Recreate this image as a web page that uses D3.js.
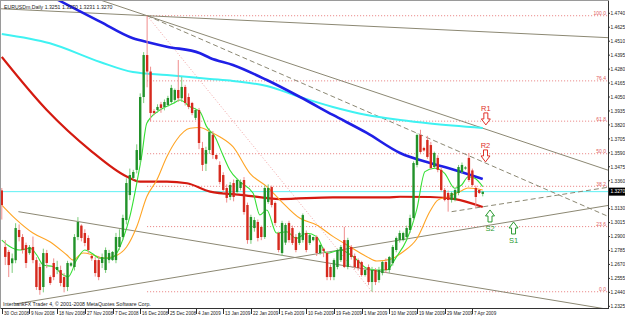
<!DOCTYPE html>
<html><head><meta charset="utf-8">
<script src="https://cdn.jsdelivr.net/npm/d3@7"></script>
<style>
body { margin: 0; background: #fff; }
svg { display: block; font-family: "Liberation Sans", Arial, sans-serif; }
</style></head><body>
<script>
// bar index -> [open, high, low, close] (daily, incl. sunday bars)
var ohlc = [
  [1.3280,1.3300,1.3040,1.3160],[1.2814,1.2871,1.2665,1.2732],[1.2773,1.2790,1.2566,1.2665],[1.2680,1.2760,1.2600,1.2720],
  [1.2705,1.3010,1.2680,1.2970],[1.2954,1.3000,1.2860,1.2896],[1.2896,1.2920,1.2760,1.2789],[1.2830,1.2850,1.2640,1.2682],
  [1.2764,1.2830,1.2750,1.2814],[1.2814,1.2900,1.2680,1.2706],[1.2706,1.2730,1.2460,1.2484],[1.2649,1.2680,1.2420,1.2459],
  [1.2484,1.2800,1.2440,1.2764],[1.2764,1.2790,1.2640,1.2682],[1.2566,1.2580,1.2500,1.2517],[1.2682,1.2720,1.2540,1.2566],
  [1.2624,1.2700,1.2590,1.2649],[1.2624,1.2660,1.2490,1.2517],[1.2566,1.2600,1.2440,1.2484],[1.2484,1.2700,1.2450,1.2682],
  [1.2660,1.2690,1.2650,1.2680],[1.2649,1.2920,1.2620,1.2896],[1.2896,1.3060,1.2870,1.3020],[1.2990,1.3000,1.2860,1.2888],
  [1.2929,1.2960,1.2820,1.2847],[1.2888,1.2910,1.2760,1.2789],[1.2740,1.2750,1.2700,1.2720],[1.2706,1.2730,1.2570,1.2599],
  [1.2706,1.2740,1.2540,1.2566],[1.2682,1.2760,1.2640,1.2731],[1.2624,1.2810,1.2600,1.2789],[1.2706,1.2790,1.2680,1.2764],
  [1.2706,1.2780,1.2700,1.2773],[1.2706,1.2930,1.2680,1.2896],[1.2814,1.2960,1.2790,1.2896],[1.2896,1.3080,1.2870,1.3053],
  [1.3036,1.3380,1.3000,1.3341],[1.3242,1.3460,1.3200,1.3407],[1.3383,1.3450,1.3370,1.3432],[1.3449,1.3660,1.3420,1.3613],
  [1.3531,1.4080,1.3500,1.4050],[1.4050,1.4420,1.4000,1.4396],[1.4396,1.4720,1.4130,1.4260],[1.4260,1.4300,1.3850,1.3918],
  [1.3935,1.3950,1.3900,1.3918],[1.3943,1.3990,1.3920,1.3968],[1.3990,1.4010,1.3920,1.3960],[1.3968,1.4030,1.3940,1.4009],
  [1.3984,1.4060,1.3970,1.4042],[1.4009,1.4150,1.3990,1.4125],[1.4026,1.4120,1.4010,1.4108],[1.4108,1.4355,1.4010,1.4040],
  [1.4040,1.4215,1.4010,1.4133],[1.4133,1.4150,1.3980,1.4001],[1.4050,1.4080,1.3950,1.3968],[1.4001,1.4010,1.3900,1.3918],
  [1.3878,1.3960,1.3860,1.3943],[1.3943,1.3960,1.3620,1.3671],[1.3630,1.3680,1.3440,1.3490],[1.3500,1.3640,1.3440,1.3613],
  [1.3613,1.3790,1.3580,1.3762],[1.3739,1.3770,1.3540,1.3572],[1.3572,1.3580,1.3530,1.3540],[1.3490,1.3520,1.3330,1.3350],
  [1.3407,1.3430,1.3260,1.3284],[1.3300,1.3330,1.3180,1.3218],[1.3226,1.3350,1.3200,1.3325],[1.3341,1.3370,1.3190,1.3226],
  [1.3267,1.3380,1.3250,1.3366],[1.3300,1.3370,1.3280,1.3350],[1.3366,1.3390,1.3080,1.3102],[1.3160,1.3180,1.2840,1.2871],
  [1.2871,1.3080,1.2840,1.3061],[1.2970,1.3060,1.2940,1.3036],[1.3020,1.3040,1.2860,1.2888],[1.2979,1.2990,1.2870,1.2896],
  [1.2896,1.3320,1.2880,1.3300],[1.3185,1.3330,1.3170,1.3300],[1.3308,1.3320,1.3140,1.3160],[1.3177,1.3190,1.2990,1.3012],
  [1.2929,1.2940,1.2770,1.2789],[1.2764,1.3030,1.2740,1.3012],[1.2850,1.3010,1.2830,1.2995],[1.3012,1.3030,1.2850,1.2871],
  [1.2970,1.2990,1.2830,1.2847],[1.2896,1.2920,1.2770,1.2789],[1.2847,1.2940,1.2830,1.2929],[1.2871,1.3090,1.2850,1.3077],
  [1.2929,1.2950,1.2770,1.2789],[1.2847,1.2920,1.2830,1.2912],[1.2870,1.2900,1.2860,1.2896],[1.2896,1.2910,1.2740,1.2764],
  [1.2764,1.2840,1.2750,1.2830],[1.2800,1.2810,1.2730,1.2780],[1.2764,1.2780,1.2540,1.2566],[1.2649,1.2670,1.2540,1.2566],
  [1.2566,1.2720,1.2540,1.2706],[1.2649,1.2800,1.2630,1.2789],[1.2706,1.2830,1.2690,1.2814],[1.2871,1.2980,1.2640,1.2649],
  [1.2649,1.2890,1.2630,1.2871],[1.2814,1.2830,1.2710,1.2731],[1.2740,1.2760,1.2630,1.2649],[1.2706,1.2720,1.2620,1.2640],
  [1.2690,1.2700,1.2570,1.2583],[1.2583,1.2640,1.2570,1.2624],[1.2649,1.2670,1.2500,1.2525],[1.2525,1.2650,1.2445,1.2624],
  [1.2624,1.2640,1.2500,1.2525],[1.2542,1.2650,1.2520,1.2624],[1.2599,1.2700,1.2580,1.2690],[1.2690,1.2720,1.2600,1.2624],
  [1.2624,1.2740,1.2600,1.2731],[1.2681,1.2830,1.2660,1.2814],[1.2789,1.2900,1.2770,1.2888],[1.2871,1.2950,1.2850,1.2929],
  [1.2871,1.2940,1.2860,1.2929],[1.2896,1.2990,1.2880,1.2970],[1.2954,1.3080,1.2930,1.3053],[1.3053,1.3520,1.3030,1.3506],
  [1.3490,1.3750,1.3470,1.3737],[1.3737,1.3780,1.3580,1.3597],[1.3630,1.3640,1.3600,1.3610],[1.3696,1.3730,1.3540,1.3556],
  [1.3654,1.3680,1.3450,1.3465],[1.3473,1.3600,1.3460,1.3589],[1.3548,1.3570,1.3430,1.3449],[1.3449,1.3470,1.3270,1.3284],
  [1.3284,1.3300,1.3190,1.3201],[1.3259,1.3280,1.3105,1.3201],[1.3201,1.3270,1.3180,1.3259],[1.3201,1.3300,1.3190,1.3284],
  [1.3259,1.3490,1.3240,1.3473],[1.3432,1.3510,1.3420,1.3490],[1.3460,1.3480,1.3450,1.3470],[1.3548,1.3589,1.3350,1.3366],
  [1.3445,1.3460,1.3310,1.3325],[1.3300,1.3320,1.3135,1.3226],[1.3284,1.3290,1.3250,1.3259],[1.3251,1.3270,1.3231,1.3270]
];

// moving averages, [bar index, price]
var maBlue = [[0,1.5106],[16.8,1.4842],[28.4,1.4671],[37.9,1.4534],[42.8,1.4498],[47.7,1.4465],[57.3,1.4411],[60.2,1.4372],
  [66.8,1.4314],[76.6,1.4190],[86.2,1.4050],[95.7,1.3902],[105.5,1.3754],[115.1,1.3589],[123.8,1.3506],[129,1.3465],[139,1.3374]];
var maCyan = [[0,1.4570],[13.9,1.4493],[28.4,1.4339],[37.9,1.4256],[47.7,1.4232],[60.2,1.4199],[66.8,1.4182],[76.6,1.4141],
  [86.2,1.4050],[95.7,1.3968],[105.5,1.3902],[115.1,1.3861],[123.8,1.3832],[139,1.3795]];
var maRed = [[0,1.4380],[13,1.3943],[25.5,1.3613],[36.2,1.3393],[40,1.3352],[47.7,1.3352],[53.5,1.3339],[60.2,1.3270],
  [69.7,1.3242],[80.4,1.3209],[95.7,1.3223],[111.3,1.3223],[115.1,1.3228],[123.8,1.3226],[131,1.3209],[139,1.3144]];
var maOrange = [[0,1.3160],[3.8,1.3050],[9,1.2929],[13.9,1.2857],[18.8,1.2748],[20.6,1.2707],[23.5,1.2764],[26.4,1.2748],
  [29.2,1.2723],[32.1,1.2734],[36.1,1.2816],[39,1.2981],[41.9,1.3228],[44.8,1.3366],[47.7,1.3558],[50.5,1.3696],[54.4,1.3792],
  [57.3,1.3799],[60.2,1.3764],[63.1,1.3721],[66.8,1.3641],[71.7,1.3421],[76.6,1.3311],[80.4,1.3201],[86.2,1.3050],[91,1.2995],
  [95.8,1.2899],[100.6,1.2816],[105.5,1.2734],[108.4,1.2698],[112.2,1.2712],[116,1.2775],[119.9,1.2880],[123.8,1.3110],
  [126,1.3200],[129,1.3228],[132.9,1.3278],[134.7,1.3300],[139,1.3284]];
var maGreen = [[0,1.2871],[2.4,1.2816],[5.3,1.2789],[8.2,1.2803],[10.1,1.2748],[12,1.2665],[14.9,1.2651],[17.8,1.2583],
  [19.2,1.2569],[21.6,1.2706],[24,1.2789],[26,1.2762],[28.4,1.2721],[31.3,1.2721],[33.2,1.2762],[35.1,1.2885],[37,1.3064],
  [39,1.3339],[40.4,1.3558],[41.9,1.3833],[45.7,1.3943],[49.6,1.3998],[51.5,1.4026],[54.4,1.3970],[57.3,1.3927],[59.2,1.3806],
  [61.6,1.3723],[63.9,1.3572],[65.9,1.3449],[68.8,1.3352],[72.6,1.3259],[74.6,1.3078],[76.6,1.3119],[79.4,1.2929],[82.3,1.2940],
  [85.2,1.2885],[88.1,1.2927],[91,1.2899],[93.9,1.2762],[97.8,1.2789],[101.6,1.2734],[105.5,1.2638],[108.4,1.2624],
  [111.2,1.2624],[114.1,1.2734],[117,1.2871],[119.9,1.3119],[122.3,1.3435],[125.2,1.3463],[128,1.3421],[130.9,1.3298],
  [132.9,1.3325],[134.8,1.3393],[136.7,1.3380],[139,1.3311]];

// trend lines: two anchors [bar index, price]; left = extend to the left of first anchor
var trendLines = [
  { a: [0, 1.4777], b: [42, 1.4720], left: true, dash: null },
  { a: [42, 1.4720], b: [175, 1.3449], left: true, dash: null },
  { a: [42, 1.4720], b: [175, 1.3069], left: false, dash: "5,3" },
  { a: [4.8, 1.3105], b: [172.9, 1.2311], left: false, dash: null },
  { a: [3.8, 1.2344], b: [175.2, 1.3156], left: false, dash: null },
  { a: [130, 1.3105], b: [175.2, 1.3306], left: false, dash: "5,3" }
];

// fibonacci from the 18 Dec high to the 4 Mar low
var fibHigh = [42, 1.4720], fibLow = [107, 1.2445];
var fibLevels = [0, 23.6, 38.2, 50.0, 61.8, 76.4, 100.0];

// support / resistance marks: [label, bar index, price at arrow tip, direction]
var marks = [["R1", 139.9, 1.3820, "down"], ["R2", 139.8, 1.3515, "down"],
             ["S2", 141.1, 1.3119, "up"], ["S1", 147.9, 1.3020, "up"]];

// 1.3245 sits under the last-price box and is not shown
var priceTicks = ["1.4740","1.4625","1.4510","1.4395","1.4280","1.4165","1.4050","1.3935","1.3820","1.3705","1.3590",
  "1.3475","1.3360","1.3130","1.3015","1.2900","1.2785","1.2670","1.2555","1.2440","1.2325"];
var dateIdx = [0, 8, 16, 24, 32, 40, 48, 56, 64, 72, 80, 88, 96, 104, 112, 120, 128, 136];
var dateLabels = ["30 Oct 2008","9 Nov 2008","18 Nov 2008","27 Nov 2008","7 Dec 2008","16 Dec 2008","25 Dec 2008",
  "4 Jan 2009","13 Jan 2009","22 Jan 2009","1 Feb 2009","10 Feb 2009","19 Feb 2009","1 Mar 2009","10 Mar 2009",
  "19 Mar 2009","29 Mar 2009","7 Apr 2009"];
var lastPrice = 1.3270;

var width = 625, height = 316;
var plot = { left: 1, top: 1, right: 608, bottom: 308 };

var x = d3.scaleLinear().domain([0, 139]).range([1.8, 1.8 + 139 * 3.46]);
var y = d3.scaleLinear().domain([1.2325, 1.4740]).range([306.3, 13.3]);

var svg = d3.select("body").append("svg")
  .attr("width", width).attr("height", height);

svg.append("defs").append("clipPath").attr("id", "clip")
  .append("rect")
  .attr("x", plot.left).attr("y", plot.top)
  .attr("width", plot.right - plot.left).attr("height", plot.bottom - plot.top);

var root = svg.append("g").attr("clip-path", "url(#clip)");

// fib levels
var fibRange = fibHigh[1] - fibLow[1];
fibLevels.forEach(function(l) {
  var py = y(fibLow[1] + fibRange * l / 100);
  root.append("line")
    .attr("x1", x(fibHigh[0])).attr("x2", plot.right)
    .attr("y1", py).attr("y2", py)
    .attr("stroke", "#e25a5a").attr("stroke-width", 0.8).attr("stroke-dasharray", "1,2");
  root.append("text")
    .attr("x", plot.right - 2).attr("y", py - 0.5)
    .attr("text-anchor", "end").attr("font-size", 5).attr("fill", "#e06060")
    .text(l.toFixed(1));
});
root.append("line")
  .attr("x1", x(fibHigh[0])).attr("y1", y(fibHigh[1]))
  .attr("x2", x(fibLow[0])).attr("y2", y(fibLow[1]))
  .attr("stroke", "#ec8a8a").attr("stroke-width", 0.8).attr("stroke-dasharray", "1,2");

// current price line
root.append("line")
  .attr("x1", plot.left).attr("x2", plot.right)
  .attr("y1", y(lastPrice)).attr("y2", y(lastPrice))
  .attr("stroke", "#5ff0f4").attr("stroke-width", 1);

// trend lines
trendLines.forEach(function(t) {
  var slope = (t.b[1] - t.a[1]) / (t.b[0] - t.a[0]);
  var i0 = t.left ? -20 : t.a[0], i1 = 200;
  root.append("line")
    .attr("x1", x(i0)).attr("y1", y(t.a[1] + slope * (i0 - t.a[0])))
    .attr("x2", x(i1)).attr("y2", y(t.a[1] + slope * (i1 - t.a[0])))
    .attr("stroke", "#8c8873").attr("stroke-width", 1)
    .attr("stroke-dasharray", t.dash);
});

// moving averages
var maLine = d3.line()
  .x(function(d) { return x(d[0]); })
  .y(function(d) { return y(d[1]); })
  .curve(d3.curveMonotoneX);

[[maCyan, "#3ff2f2", 2], [maBlue, "#1f1fe6", 2.6], [maRed, "#d41a10", 2.2],
 [maOrange, "#ffa424", 1.1], [maGreen, "#34e034", 1.1]].forEach(function(m) {
  root.append("path").datum(m[0])
    .attr("d", maLine)
    .attr("fill", "none").attr("stroke", m[1]).attr("stroke-width", m[2]);
});

// candles
var bars = root.append("g").selectAll(".bar").data(ohlc).enter().append("g");
bars.append("line")
  .attr("x1", function(d, i) { return x(i); })
  .attr("x2", function(d, i) { return x(i); })
  .attr("y1", function(d) { return y(d[1]); })
  .attr("y2", function(d) { return y(d[2]); })
  .attr("stroke", function(d) { return d[3] >= d[0] ? "#7ccc7c" : "#f08c8c"; })
  .attr("stroke-width", 1);
bars.append("rect")
  .attr("x", function(d, i) { return x(i) - 1.2; })
  .attr("width", 2.4)
  .attr("y", function(d) { return y(Math.max(d[0], d[3])); })
  .attr("height", function(d) { return Math.max(1, Math.abs(y(d[0]) - y(d[3]))); })
  .attr("fill", function(d) { return d[3] >= d[0] ? "#22922a" : "#d62a1e"; });

// support / resistance arrows
marks.forEach(function(m) {
  var mx = x(m[1]), my = y(m[2]);
  var col = m[3] == "down" ? "#e0302a" : "#2a9a30";
  var s = m[3] == "down" ? -1 : 1;
  var pts = [[0, 0], [-4.5, 6], [-2, 6], [-2, 12], [2, 12], [2, 6], [4.5, 6]];
  root.append("path")
    .attr("d", "M" + pts.map(function(p) { return (mx + p[0]) + "," + (my + s * p[1]); }).join("L") + "Z")
    .attr("fill", "#fff").attr("stroke", col).attr("stroke-width", 1);
  root.append("text")
    .attr("x", mx).attr("y", m[3] == "down" ? my - 13.5 : my + 21)
    .attr("text-anchor", "middle").attr("font-size", 7.5).attr("fill", col)
    .text(m[0]);
});

// frame
svg.append("rect")
  .attr("x", plot.left - 0.5).attr("y", plot.top - 0.5)
  .attr("width", plot.right - plot.left + 1).attr("height", plot.bottom - plot.top + 1)
  .attr("fill", "none").attr("stroke", "#9a9a9a");
svg.append("line").attr("x1", plot.right + 0.5).attr("x2", plot.right + 0.5)
  .attr("y1", plot.top).attr("y2", plot.bottom + 1).attr("stroke", "#333");
svg.append("line").attr("x1", plot.left).attr("x2", plot.right + 1)
  .attr("y1", plot.bottom + 0.5).attr("y2", plot.bottom + 0.5).attr("stroke", "#333");

// price axis
priceTicks.forEach(function(t) {
  var py = y(+t);
  svg.append("line").attr("x1", plot.right).attr("x2", plot.right + 2)
    .attr("y1", py).attr("y2", py).attr("stroke", "#333");
  svg.append("text").attr("x", plot.right + 2.5).attr("y", py + 1.8)
    .attr("font-size", 4.8).attr("fill", "#222").text(t);
});
svg.append("rect").attr("x", plot.right + 1).attr("y", y(lastPrice) - 4)
  .attr("width", width - plot.right - 1).attr("height", 8).attr("fill", "#000");
svg.append("text").attr("x", plot.right + 2.5).attr("y", y(lastPrice) + 1.8)
  .attr("font-size", 4.8).attr("fill", "#fff").text(lastPrice.toFixed(4));

// time axis
dateIdx.forEach(function(d, i) {
  var px = Math.round(x(d)) + 0.5;
  svg.append("line").attr("x1", px).attr("x2", px)
    .attr("y1", plot.bottom).attr("y2", plot.bottom + 6).attr("stroke", "#333");
  svg.append("text").attr("x", px + 1.5).attr("y", plot.bottom + 6.5)
    .attr("font-size", 4.6).attr("fill", "#222").text(dateLabels[i]);
});

// captions
svg.append("text").attr("x", 4).attr("y", 8.5).attr("font-size", 5.2).attr("fill", "#222")
  .text("EURUSDm,Daily  1.3251 1.3270 1.3231 1.3270");
svg.append("text").attr("x", 3).attr("y", 305.5).attr("font-size", 5.2).attr("fill", "#222")
  .text("InterbankFX Trader 4, \u00a9 2001-2008 MetaQuotes Software Corp.");
</script>
</body></html>
